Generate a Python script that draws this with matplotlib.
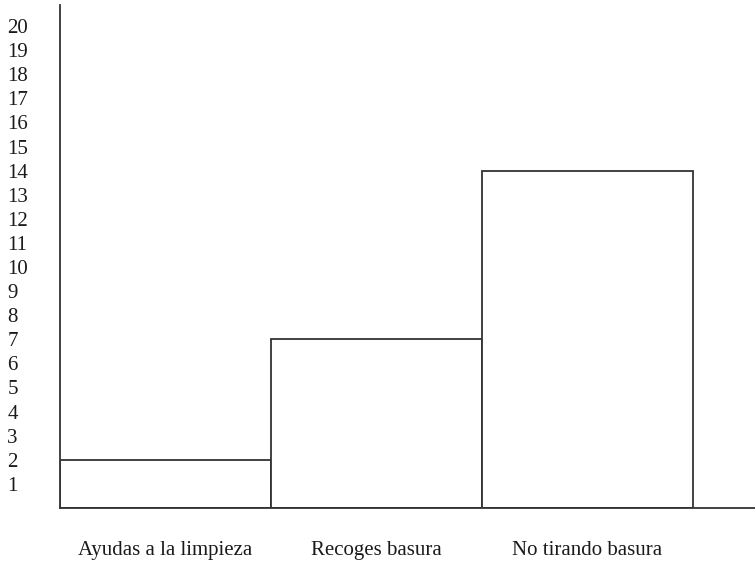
import matplotlib.pyplot as plt

# data
categories = ['Ayudas a la limpieza', 'Recoges basura', 'No tirando basura']
counts = [2, 7, 14]
y_ticks = list(range(1, 21))

plt.rcParams['font.family'] = ['Liberation Serif', 'DejaVu Serif']

fig = plt.figure(figsize=(7.55, 5.63), dpi=100)
ax = fig.add_axes([60 / 755, 55 / 563, 695 / 755, 503 / 563])

x = [i + 0.5 for i in range(len(counts))]
ax.bar(x, counts, width=1, facecolor='white', edgecolor='#333333', linewidth=1.3)

ax.set_xlim(0, 695 / 211)
ax.set_ylim(0, 503 / 24.1)

ax.set_yticks(y_ticks)
ax.set_yticklabels([str(v) for v in y_ticks], ha='left', fontsize=15, color='#1a1a1a')
ax.set_xticks(x)
ax.set_xticklabels(categories, fontsize=15, color='#1a1a1a')
ax.tick_params(axis='y', length=0, pad=38)
ax.tick_params(axis='x', length=0, pad=24)

for side in ['top', 'right']:
    ax.spines[side].set_visible(False)
for side in ['left', 'bottom']:
    ax.spines[side].set_color('#333333')
    ax.spines[side].set_linewidth(1.3)

fig.savefig('out.png', dpi=100)
